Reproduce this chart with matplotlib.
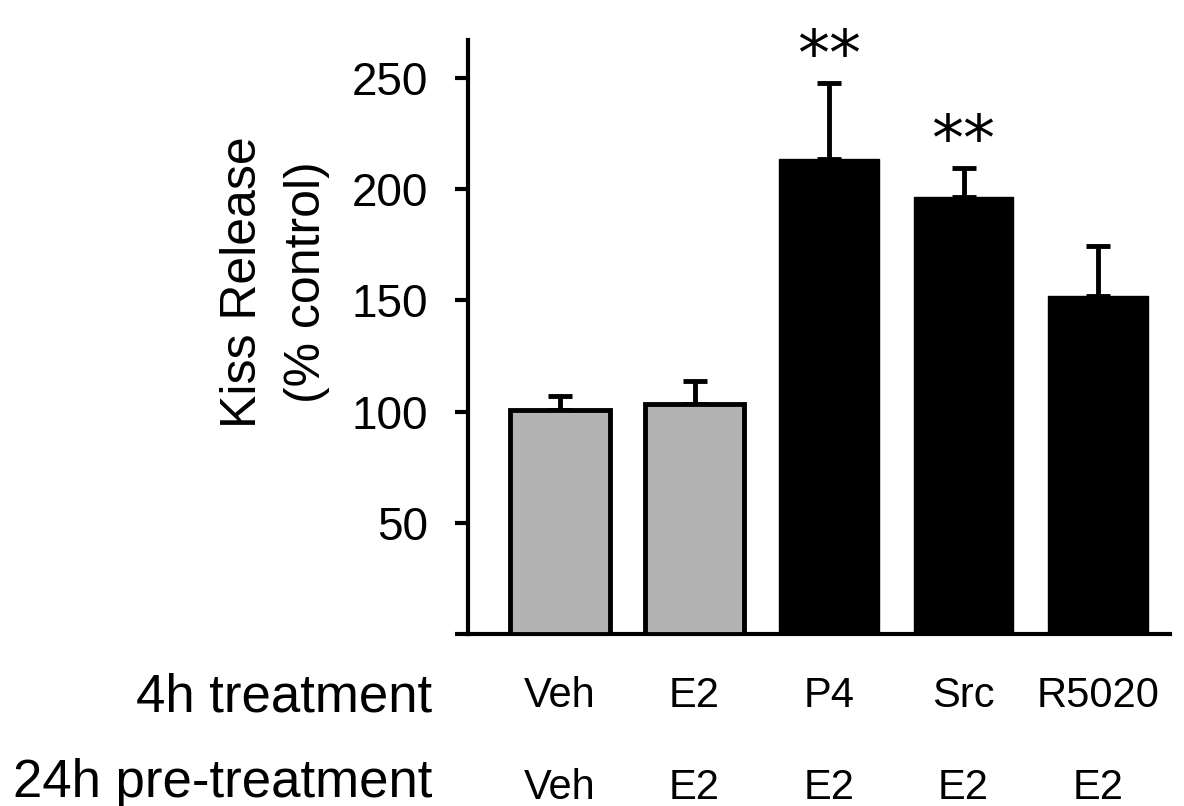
import numpy as np
import matplotlib.pyplot as plt

plt.rcParams['font.family'] = ['Liberation Sans', 'DejaVu Sans']

# data
treat_4h = ["Veh", "E2", "P4", "Src", "R5020"]
pretreat_24h = ["Veh", "E2", "E2", "E2", "E2"]
kiss_release = [100.5, 103.5, 213.5, 196.5, 152.0]
sem = [6.3, 10.0, 34.3, 13.1, 22.5]
signif = ["", "", "**", "**", ""]
yticks = [0, 50, 100, 150, 200, 250]
bar_colors = ["#b3b3b3", "#b3b3b3", "black", "black", "black"]
edge_widths = [3.5, 3.5, 1.0, 1.0, 1.0]

W, H = 1184, 806
fig = plt.figure(figsize=(W / 100, H / 100), dpi=100)
ax = fig.add_axes([468 / W, 1 - 634 / H, (1170 - 468) / W, (634 - 40) / H])

x = np.arange(len(treat_4h))
ax.bar(x, kiss_release, width=0.74, color=bar_colors, edgecolor="black",
       linewidth=edge_widths, zorder=3)
ax.errorbar(x, kiss_release, yerr=[np.zeros(len(sem)), sem], fmt="none",
            ecolor="black", elinewidth=3.5, capsize=8.5, capthick=3.5, zorder=2)

for xi, y, e, s in zip(x, kiss_release, sem, signif):
    if s:
        ax.text(xi, y + e + 3.3, s, ha="center", va="baseline",
                fontsize=46, family="DejaVu Sans")

ax.set_xlim(-0.684, 4.535)
ax.set_ylim(0, 267)
ax.set_yticks(yticks)
ax.set_yticklabels([str(t) if t else "" for t in yticks])
ax.set_xticks([])
ax.tick_params(axis="y", direction="out", length=9.5, width=3, labelsize=33, pad=19)
for side in ["top", "right"]:
    ax.spines[side].set_visible(False)
ax.spines["left"].set_linewidth(3)
ax.spines["bottom"].set_linewidth(3)

fig.text(275 / W, 1 - 282 / H, "Kiss Release\n(% control)", rotation=90,
         ha="center", va="center", multialignment="center", fontsize=36, linespacing=1.5)

# row labels under the axis
fig.text(432 / W, 1 - 711 / H, "4h treatment", ha="right", va="baseline", fontsize=38)
fig.text(432 / W, 1 - 797 / H, "24h pre-treatment", ha="right", va="baseline", fontsize=38)
for xi, a, b in zip(x, treat_4h, pretreat_24h):
    xf = ax.transData.transform((xi, 0))[0] / fig.bbox.width
    fig.text(xf, 1 - 707 / H, a, ha="center", va="baseline", fontsize=30)
    fig.text(xf, 1 - 799 / H, b, ha="center", va="baseline", fontsize=30)

fig.savefig("out.png", dpi=100)
